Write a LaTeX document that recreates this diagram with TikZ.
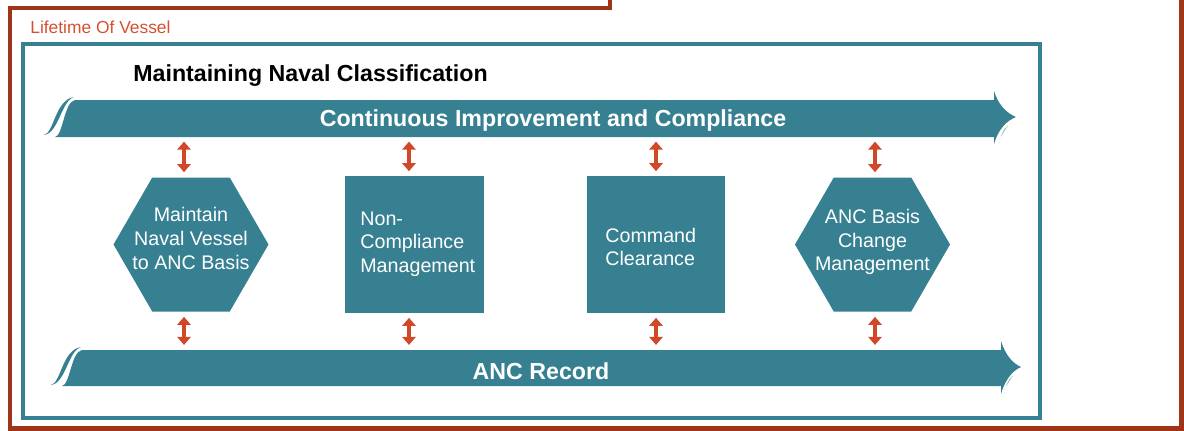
\documentclass[tikz,border=0pt]{standalone}
\usepackage{fontspec}
\setmainfont{Liberation Sans}
\usetikzlibrary{arrows.meta}
\definecolor{ancteal}{RGB}{54,128,146}
\definecolor{framebrown}{RGB}{160,52,24}
\definecolor{labelred}{RGB}{214,80,48}
\definecolor{linkred}{RGB}{208,72,40}
\definecolor{leafgreen}{RGB}{40,135,80}
\tikzset{
  bandtext/.style={text=white,font=\bfseries\fontsize{13.2}{15}\selectfont,minimum height=0.73cm,inner sep=0pt},
  boxtext/.style={text=white,font=\fontsize{11.2}{13.4}\selectfont,inner sep=0pt},
  squarebox/.style={fill=ancteal,minimum width=2.78cm,minimum height=2.74cm,inner sep=0pt},
  hexslot/.style={minimum width=3.1cm,minimum height=2.7cm,inner sep=0pt},
  link/.style={linkred,line width=2.3pt,shorten >=0.09cm,shorten <=0.09cm,
    {Triangle[width=7.6pt,length=4.6pt]}-{Triangle[width=7.6pt,length=4.6pt]}},
}

\begin{document}
\begin{tikzpicture}[x=0.02cm,y=-0.02cm]
	\useasboundingbox (0,0) rectangle (1184,430);
	% frames
	\draw[framebrown,line width=2.8pt] (610,0) -- (610,8) -- (10,8) -- (10,428.5) -- (1181.5,428.5) -- (1181.5,0);
	\node[labelred,font=\fontsize{9.9}{12}\selectfont,anchor=west,inner sep=0pt] (life) at (30,27) {Lifetime Of Vessel};
	\draw[ancteal,line width=2.8pt] (23,44) rectangle (1040,418);
	\node[font=\bfseries\fontsize{13.2}{15}\selectfont,anchor=west,inner sep=0pt] (title) at (133,75.5) {Maintaining Naval Classification};
	% top band
	\fill[ancteal] (75,100) -- (994,100) -- (994,91) .. controls (998,104) and (1006,113) .. (1016,117)
		.. controls (1006,121) and (998,130) .. (994,144) -- (994,137) -- (55,137)
		.. controls (63,136) and (64,102) .. (75,100) -- cycle;
	\fill[ancteal] (44,135) .. controls (54,133) and (55,100) .. (74,97) .. controls (61,101) and (59,133) .. (44,135) -- cycle;
	\fill[leafgreen,draw=white,line width=0.4pt] (1013,121) .. controls (1005,126) and (1000,134) .. (999,143) .. controls (1002,134) and (1007,127) .. (1013,121) -- cycle;
	\node[bandtext] (topband) at (553,118.5) {};
	\node[bandtext] (toptext) at (553,120.5) {Continuous Improvement and Compliance};
	% bottom band
	\fill[ancteal] (82,350) -- (1001,350) -- (1001,341) .. controls (1005,354) and (1012,363) .. (1021,367)
		.. controls (1012,371) and (1005,380) .. (1001,394) -- (1001,386) -- (62,386)
		.. controls (70,385) and (71,352) .. (82,350) -- cycle;
	\fill[ancteal] (51,385) .. controls (61,383) and (62,350) .. (81,347) .. controls (68,351) and (66,383) .. (51,385) -- cycle;
	\fill[leafgreen,draw=white,line width=0.4pt] (1018,371) .. controls (1010,376) and (1005,384) .. (1004,393) .. controls (1007,384) and (1012,377) .. (1018,371) -- cycle;
	\node[bandtext] (bottomband) at (541,368) {};
	\node[bandtext] (bottomtext) at (541,371) {ANC Record};
	% steps
	\fill[ancteal] (191,244.5) +(-77.5,0) -- +(-38.75,-67) -- +(38.75,-67) -- +(77.5,0) -- +(38.75,67) -- +(-38.75,67) -- cycle;
	\node[hexslot] (s1) at (191,244.5) {};
	\node[boxtext,align=center] (s1text) at (191,238.5) {Maintain\\Naval Vessel\\to ANC Basis};
	\node[squarebox] (s2) at (414.5,244.5) {};
	\node[boxtext,align=left,anchor=west] (s2text) at (360,244) {Non-\\Compliance\\Management};
	\node[squarebox] (s3) at (656,244.5) {};
	\node[boxtext,align=left,anchor=west] (s3text) at (605,247) {Command\\Clearance};
	\fill[ancteal] (872.5,244.5) +(-77.5,0) -- +(-38.75,-67) -- +(38.75,-67) -- +(77.5,0) -- +(38.75,67) -- +(-38.75,67) -- cycle;
	\node[hexslot] (s4) at (872.5,244.5) {};
	\node[boxtext,align=center] (s4text) at (872.5,242) {ANC Basis\\Change\\Management};
	% links
	\coordinate (n1) at ([xshift=-0.14cm]s1.north);
	\coordinate (n2) at ([xshift=-0.11cm]s2.north);
	\coordinate (n3) at (s3.north);
	\coordinate (n4) at ([xshift=0.05cm]s4.north);
	\coordinate (b1) at ([xshift=-0.14cm]s1.south);
	\coordinate (b2) at ([xshift=-0.11cm]s2.south);
	\coordinate (b3) at (s3.south);
	\coordinate (b4) at ([xshift=0.05cm]s4.south);
	\draw[link] (topband.south -| n1) -- (n1);
	\draw[link] (topband.south -| n2) -- (n2);
	\draw[link] (topband.south -| n3) -- (n3);
	\draw[link] (topband.south -| n4) -- (n4);
	\draw[link] (b1) -- (bottomband.north -| b1);
	\draw[link] (b2) -- (bottomband.north -| b2);
	\draw[link] (b3) -- (bottomband.north -| b3);
	\draw[link] (b4) -- (bottomband.north -| b4);
\end{tikzpicture}
\end{document}
